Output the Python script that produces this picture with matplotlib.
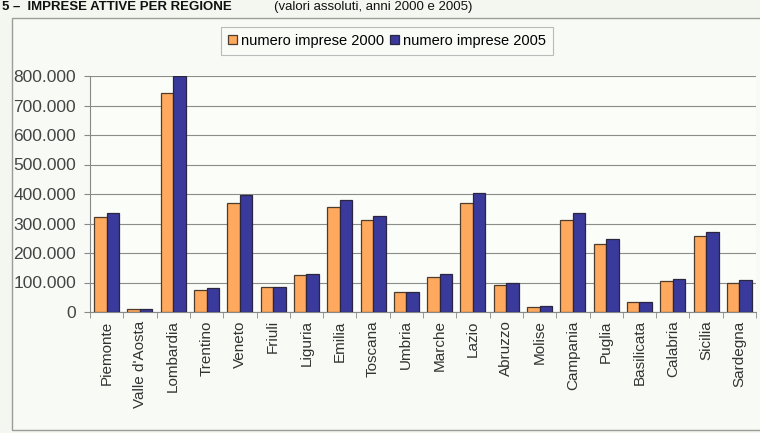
import numpy as np
import matplotlib
matplotlib.use("Agg")
import matplotlib.pyplot as plt
from matplotlib.patches import Rectangle
from matplotlib.ticker import FuncFormatter, MultipleLocator

# dati
regioni = ["Piemonte", "Valle d'Aosta", "Lombardia", "Trentino", "Veneto", "Friuli",
           "Liguria", "Emilia", "Toscana", "Umbria", "Marche", "Lazio", "Abruzzo",
           "Molise", "Campania", "Puglia", "Basilicata", "Calabria", "Sicilia", "Sardegna"]
imprese_2000 = [323000, 9000, 742000, 76000, 368000, 86000, 124000, 355000, 311000, 67000,
                119000, 368000, 92000, 18000, 312000, 231000, 35000, 106000, 256000, 98000]
imprese_2005 = [335000, 9000, 800000, 81000, 397000, 86000, 130000, 379000, 326000, 67000,
                130000, 402000, 97000, 19000, 337000, 246000, 35000, 112000, 272000, 107000]
serie = ["numero imprese 2000", "numero imprese 2005"]

plt.rcParams['font.family'] = ['Liberation Sans', 'DejaVu Sans']

fig = plt.figure(figsize=(7.6, 4.33), dpi=100)
fig.patch.set_facecolor('#f3f7ef')

# cornice del grafico
cornice = Rectangle((12/760, 3/433), 760, 412/433, transform=fig.transFigure,
                    facecolor='#f8fbf5', edgecolor='#9a9e98', linewidth=1.0, zorder=-5)
fig.patches.append(cornice)

# titolo in alto
fig.text(0.002, 1 - 1/433, "5 \u2013  IMPRESE ATTIVE PER REGIONE", fontsize=9.5,
         fontweight='bold', va='top', ha='left', color='#111111')
fig.text(0.36, 1 - 1/433, "(valori assoluti, anni 2000 e 2005)", fontsize=9.5,
         va='top', ha='left', color='#111111')

ax = fig.add_axes([90/760, 1 - 312/433, 666/760, 236/433])
ax.set_facecolor('#fbfdf9')

x = np.arange(len(regioni))
w = 0.375
ax.bar(x - w/2, imprese_2000, w, color='#ffa95e', edgecolor='#4d3b2c', linewidth=0.9,
       label=serie[0], zorder=3)
ax.bar(x + w/2, imprese_2005, w, color='#3a3a9c', edgecolor='#2b2540', linewidth=0.9,
       label=serie[1], zorder=3)

ax.set_xlim(-0.5, len(regioni) - 0.5)
ax.set_ylim(0, 800000)
ax.yaxis.set_major_locator(MultipleLocator(100000))
ax.yaxis.set_major_formatter(FuncFormatter(lambda v, p: "0" if v == 0 else f"{int(v):,}".replace(",", ".")))
ax.yaxis.grid(True, color='#8a8d88', linewidth=0.8, zorder=0)

ax.set_xticks(x)
ax.set_xticklabels(regioni, rotation=90, fontsize=11, color='#333333')
ax.set_xticks(np.arange(-0.5, len(regioni)), minor=True)
ax.tick_params(axis='x', which='major', length=0, pad=6)
ax.tick_params(axis='x', which='minor', length=4, color='#888888')
ax.tick_params(axis='y', labelsize=12.5, length=4, color='#888888', labelcolor='#444444', pad=6)

for s in ['top', 'right']:
    ax.spines[s].set_visible(False)
ax.spines['left'].set_color('#888888')
ax.spines['bottom'].set_color('#888888')

leg = fig.legend(loc='center', bbox_to_anchor=(387/760, 1 - 41/433), ncol=2, fontsize=10.5,
                 frameon=True, fancybox=False, edgecolor='#aaaaaa', handlelength=0.6,
                 handleheight=0.6, handletextpad=0.3, columnspacing=0.4, borderpad=0.5)
leg.get_frame().set_facecolor('#fafcf8')
leg.get_frame().set_linewidth(0.8)

fig.savefig("out.png", dpi=100, facecolor=fig.get_facecolor())
